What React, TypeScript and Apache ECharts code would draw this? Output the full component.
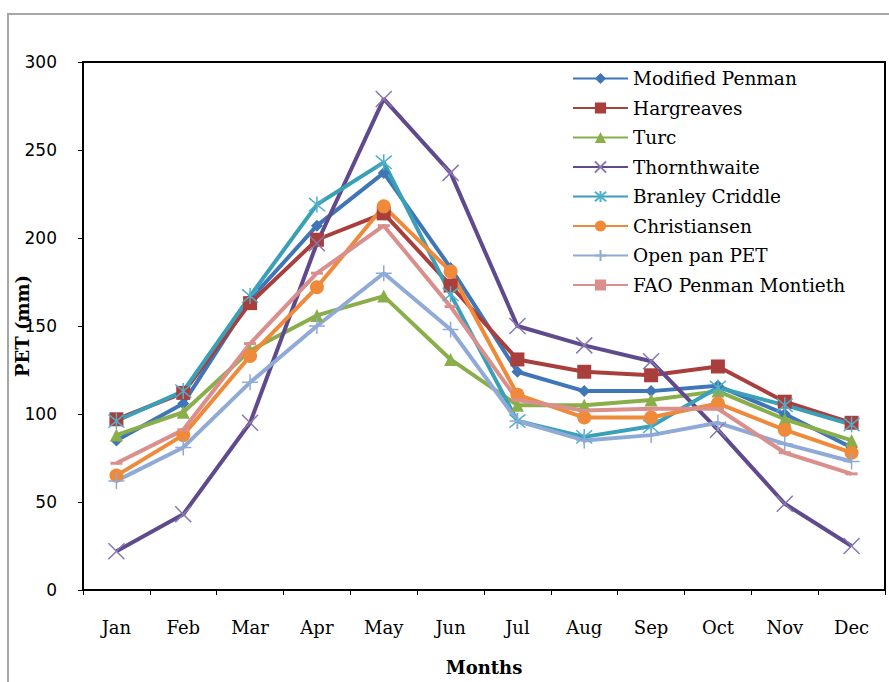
import React, { useEffect, useRef } from "react";
import * as echarts from "echarts";

const months = ["Jan", "Feb", "Mar", "Apr", "May", "Jun", "Jul", "Aug", "Sep", "Oct", "Nov", "Dec"];
const modifiedPenman = [85, 106, 165, 207, 237, 183, 124, 113, 113, 116, 100, 81];
const hargreaves = [97, 112, 163, 199, 214, 173, 131, 124, 122, 127, 107, 95];
const turc = [88, 101, 136, 156, 167, 131, 105, 105, 108, 113, 97, 85];
const thornthwaite = [22, 43, 95, 197, 279, 237, 150, 139, 130, 91, 49, 25];
const branleyCriddle = [96, 113, 167, 219, 243, 168, 96, 87, 93, 115, 105, 94];
const christiansen = [65, 88, 133, 172, 218, 181, 111, 98, 98, 106, 91, 78];
const openPanPET = [62, 81, 118, 150, 180, 148, 96, 85, 88, 95, 83, 73];
const faoPenmanMontieth = [72, 91, 140, 180, 207, 161, 108, 102, 103, 103, 78, 66];

const yTicks = [0, 50, 100, 150, 200, 250, 300];

const seriesDefs = [
  { name: "Modified Penman", data: modifiedPenman, color: "#3F76B8", symbol: "diamond", size: 12, stroke: 0 },
  { name: "Hargreaves", data: hargreaves, color: "#A93F3D", symbol: "rect", size: 14, stroke: 0 },
  { name: "Turc", data: turc, color: "#8AAE4A", symbol: "triangle", size: 13, stroke: 0 },
  { name: "Thornthwaite", data: thornthwaite, color: "#5E4A8C", symbol: "path://M0,0L10,10M10,0L0,10", size: 16, stroke: 1.5, mColor: "#8877B0" },
  { name: "Branley Criddle", data: branleyCriddle, color: "#3AA0B8", symbol: "path://M0,0L10,10M10,0L0,10M5,-1L5,11", size: 16, stroke: 1.5, mColor: "#4DB0CC" },
  { name: "Christiansen", data: christiansen, color: "#EE8A3A", symbol: "circle", size: 14, stroke: 0 },
  { name: "Open pan PET", data: openPanPET, color: "#8FAAD6", symbol: "path://M5,0L5,10M0,5L10,5", size: 16, stroke: 1.5, mColor: "#8FAAD6" },
  { name: "FAO Penman Montieth", data: faoPenmanMontieth, color: "#DA8F8C", symbol: "rect", size: [12, 3], stroke: 0 },
];

export default function App() {
  const ref = useRef<HTMLDivElement>(null);
  useEffect(() => {
    if (!ref.current) return;
    const chart = echarts.init(ref.current, undefined, { renderer: "svg" });
    const serif = "DejaVu Serif";
    chart.setOption({
      animation: false,
      backgroundColor: "#ffffff",
      graphic: [
        {
          type: "rect",
          shape: { x: 8, y: 14, width: 920, height: 720 },
          style: { fill: "none", stroke: "#A6A6A6", lineWidth: 2 },
          silent: true,
          z: -1,
        },
      ],
      grid: {
        left: 83,
        top: 62,
        right: 4,
        bottom: 92,
        show: true,
        borderColor: "#000",
        borderWidth: 2,
        backgroundColor: "transparent",
        containLabel: false,
        outerBoundsMode: "none",
      },
      legend: {
        orient: "vertical",
        left: 572,
        top: 69,
        padding: 0,
        itemWidth: 55,
        itemHeight: 14,
        itemGap: 10.5,
        textStyle: { fontFamily: serif, fontSize: 18.5, color: "#000", lineHeight: 18, padding: [0, 0, 0, 0] },
        data: seriesDefs.map((s) => s.name),
      },
      xAxis: {
        type: "category",
        data: months,
        boundaryGap: true,
        axisLine: { lineStyle: { color: "#000", width: 2 } },
        axisTick: { show: true, length: 5, lineStyle: { color: "#000", width: 1 } },
        axisLabel: { fontFamily: serif, fontSize: 18, color: "#000", margin: 28 },
        name: "Months",
        nameLocation: "middle",
        nameGap: 68,
        nameMoveOverlap: false,
        nameTextStyle: { fontFamily: serif, fontSize: 18, fontWeight: "bold", color: "#000" },
        splitLine: { show: false },
      },
      yAxis: {
        type: "value",
        min: yTicks[0],
        max: yTicks[yTicks.length - 1],
        interval: 50,
        axisLine: { show: true, lineStyle: { color: "#000", width: 2 } },
        axisTick: { show: true, length: 5, lineStyle: { color: "#000", width: 1 } },
        axisLabel: { fontFamily: "DejaVu Sans", fontSize: 17, color: "#000", margin: 26 },
        splitLine: { show: false },
        name: "PET (mm)",
        nameLocation: "middle",
        nameGap: 52,
        nameMoveOverlap: false,
        nameRotate: 90,
        nameTextStyle: { fontFamily: serif, fontSize: 18, fontWeight: "bold", color: "#000" },
      },
      series: seriesDefs.map((s) => ({
        name: s.name,
        type: "line",
        data: s.data,
        symbol: s.symbol,
        symbolSize: s.size,
        showAllSymbol: true,
        lineStyle: { color: s.color, width: 4 },
        itemStyle: s.stroke
          ? { color: (s as any).mColor, borderColor: (s as any).mColor, borderWidth: s.stroke }
          : { color: s.color, borderWidth: 0 },
        emphasis: { disabled: true },
      })),
    });
    return () => chart.dispose();
  }, []);
  return (
    <div
      ref={ref}
      style={{ position: "absolute", left: 0, top: 0, width: 889, height: 682 }}
    />
  );
}
